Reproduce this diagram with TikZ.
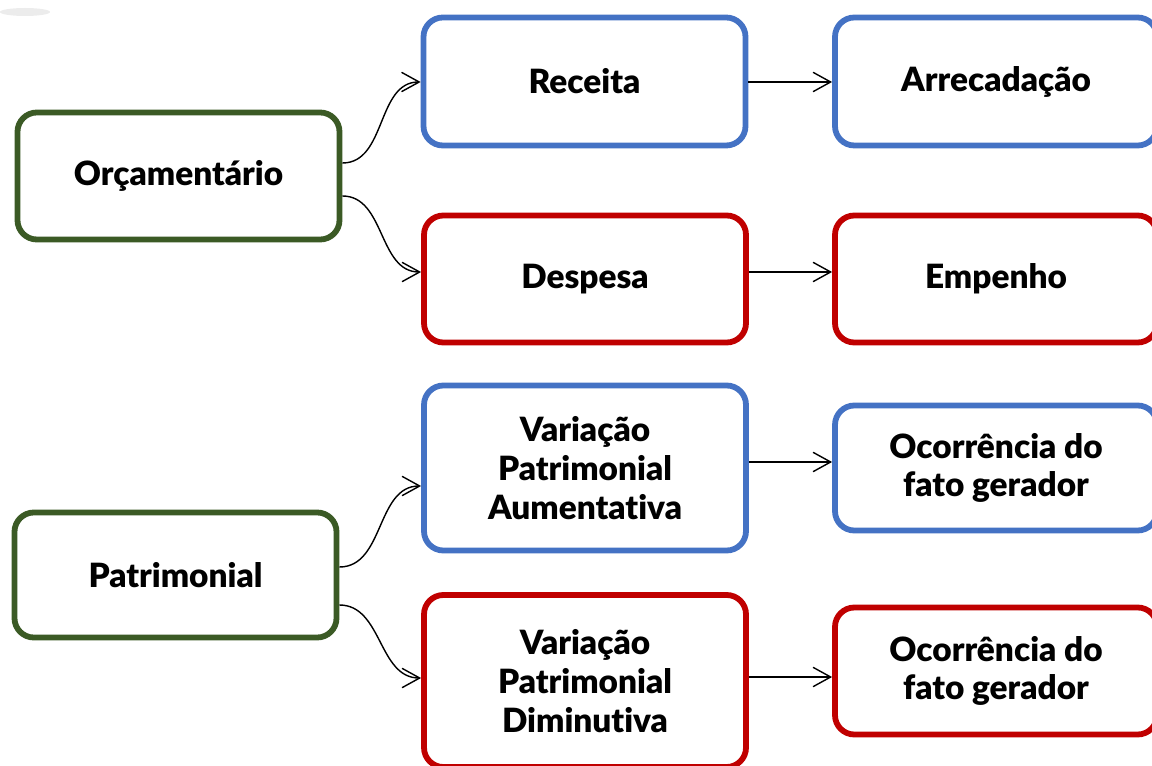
\documentclass[tikz,border=0pt]{standalone}
\usepackage{fontspec}
\setmainfont{Lato}[BoldFont={Lato Black},Ligatures=NoCommon]
\usetikzlibrary{arrows.meta}
\definecolor{cblue}{HTML}{4472C4}
\definecolor{cred}{HTML}{C00000}
\definecolor{cgreen}{HTML}{3B5A25}
\tikzset{
  box/.style={rectangle, rounded corners=11pt, line width=3.3pt, fill=white,
    align=center, font=\fontsize{19}{22}\selectfont\bfseries, inner sep=0pt},
  gbox/.style={box, draw=cgreen},
  bbox/.style={box, draw=cblue},
  rbox/.style={box, draw=cred},
  conn/.style={line width=0.8pt, -{Straight Barb[length=10pt,width=11pt,line width=0.8pt]}},
}
\begin{document}
\begin{tikzpicture}[x=0.02cm,y=-0.02cm]
\useasboundingbox (0,0) rectangle (1152,766);
\fill[gray!15] (25,12) ellipse (25 and 4);
% boxes
\node[gbox, minimum width=322*0.02cm, minimum height=127*0.02cm] (orc) at (178.5,176) {Orçamentário};
\node[bbox, minimum width=322*0.02cm, minimum height=128*0.02cm] (rec) at (584.5,81.5) {Receita};
\node[bbox, minimum width=322*0.02cm, minimum height=128*0.02cm] (arr) at (996,81.5) {Arrecadação};
\node[rbox, minimum width=322*0.02cm, minimum height=127*0.02cm] (des) at (585,279) {Despesa};
\node[rbox, minimum width=322*0.02cm, minimum height=127*0.02cm] (emp) at (996,279) {Empenho};
\node[gbox, minimum width=322*0.02cm, minimum height=125*0.02cm] (pat) at (175.5,575) {Patrimonial};
\node[bbox, minimum width=322*0.02cm, minimum height=165*0.02cm] (vpa) at (585,468) {Variação\\Patrimonial\\Aumentativa};
\node[bbox, minimum width=322*0.02cm, minimum height=125*0.02cm] (oc1) at (996,468) {Ocorrência do\\fato gerador};
\node[rbox, minimum width=322*0.02cm, minimum height=172*0.02cm] (vpd) at (585,681) {Variação\\Patrimonial\\Diminutiva};
\node[rbox, minimum width=322*0.02cm, minimum height=127*0.02cm] (oc2) at (996,671) {Ocorrência do\\fato gerador};
% connectors
\draw[conn] (orc.east |- 0,163) to[out=0,in=180] (rec.west |- 0,82);
\draw[conn] (orc.east |- 0,196) to[out=0,in=180] (des.west |- 0,272);
\draw[conn] (rec.east |- 0,82) -- (arr.west |- 0,82);
\draw[conn] (des.east |- 0,272) -- (emp.west |- 0,272);
\draw[conn] (pat.east |- 0,567) to[out=0,in=180] (vpa.west |- 0,486);
\draw[conn] (pat.east |- 0,605) to[out=0,in=180] (vpd.west |- 0,678);
\draw[conn] (vpa.east |- 0,462) -- (oc1.west |- 0,462);
\draw[conn] (vpd.east |- 0,677) -- (oc2.west |- 0,677);
\end{tikzpicture}
\end{document}
